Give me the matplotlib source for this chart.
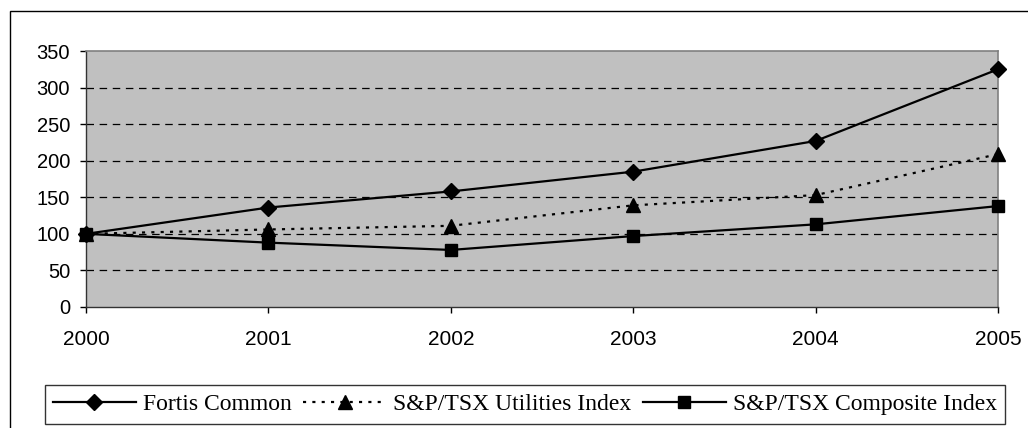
"""Fortis performance chart: indexed returns 2000-2005."""
import matplotlib
matplotlib.use("Agg")
import matplotlib.pyplot as plt
from matplotlib.patches import Rectangle

years = [2000, 2001, 2002, 2003, 2004, 2005]
fortis = [100, 136, 158, 185, 227, 325]
utilities = [100, 106, 111, 139, 153, 209]
composite = [100, 88, 78, 97, 113, 138]

y_ticks = [0, 50, 100, 150, 200, 250, 300, 350]

W, H = 1028, 428
fig = plt.figure(figsize=(W / 100, H / 100), dpi=100)
fig.patch.set_facecolor("white")

# outer chart border (right/bottom run off the picture)
fig.patches.append(Rectangle((10 / W, -0.2), 1.2, 1.2 - 10.5 / H,
                             transform=fig.transFigure, fill=False,
                             edgecolor="black", linewidth=1.0))

ax = fig.add_axes([86 / W, 1 - 307 / H, 912 / W, 256 / H])
ax.set_facecolor("#C0C0C0")

line_kw = dict(color="black", linewidth=1.6, clip_on=False, zorder=3)
ax.plot(years, fortis, marker="D", markersize=8.5, label="Fortis Common", **line_kw)
ax.plot(years, utilities, marker="^", markersize=10.5, linestyle=(0, (1.4, 2.8)),
        label="S&P/TSX Utilities Index", **line_kw)
ax.plot(years, composite, marker="s", markersize=9,
        label="S&P/TSX Composite Index", **line_kw)

ax.set_xlim(2000, 2005)
ax.set_ylim(0, 350)
ax.set_xticks(years)
ax.set_yticks(y_ticks)
for v in y_ticks[1:-1]:
    ax.axhline(v, color="black", linewidth=0.9, linestyle=(0, (6, 4.5)), zorder=1)

for side in ("top", "right"):
    ax.spines[side].set_color("#808080")
    ax.spines[side].set_linewidth(1.2)
for side in ("left", "bottom"):
    ax.spines[side].set_color("#333333")
    ax.spines[side].set_linewidth(1.0)

ax.tick_params(axis="both", direction="out", length=4.5, width=1, color="black")
ax.tick_params(axis="y", labelsize=14.5, pad=7)
ax.tick_params(axis="x", labelsize=15, pad=12)
for lbl in ax.get_xticklabels() + ax.get_yticklabels():
    lbl.set_fontfamily("Liberation Sans")

leg = fig.legend(loc="center", bbox_to_anchor=(43 / W, 1 - 426 / H, 964 / W, 43 / H),
                 ncol=3, frameon=True, fancybox=False, edgecolor="black",
                 prop={"family": "Liberation Serif", "size": 17},
                 handlelength=3.5, handletextpad=0.3, columnspacing=0.5,
                 borderpad=0.35, borderaxespad=0)
leg.get_frame().set_linewidth(1.0)

fig.savefig("out.png", dpi=100)
